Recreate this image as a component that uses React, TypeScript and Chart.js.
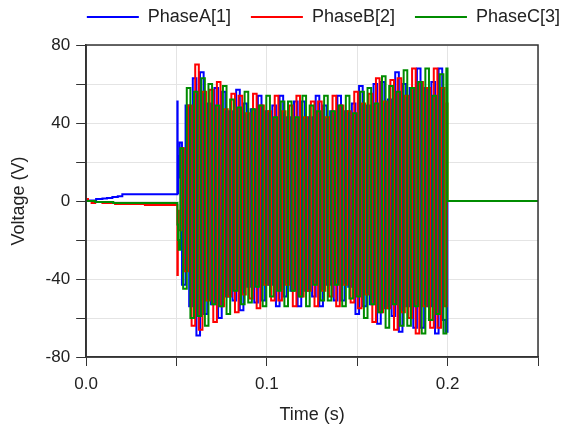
import React, { useEffect, useRef } from 'react';
import { Chart, registerables } from 'chart.js';

Chart.register(...registerables);

const seriesNames = ['PhaseA[1]', 'PhaseB[2]', 'PhaseC[3]'];
const seriesColors = ['rgb(0,0,255)', 'rgb(255,0,0)', 'rgb(0,140,0)'];

// Pre-fault / transient samples (time s, voltage V)
const preTimesA = [0, 0.003, 0.008, 0.01, 0.013, 0.016, 0.019, 0.021, 0.0504, 0.0505, 0.0507, 0.0511, 0.0515];
const preValuesA = [0, 0.3, 1, 1.3, 1.6, 2, 2.5, 3.5, 3.5, 51, 4, 23, 12];
const preTimesB = [0, 0.002, 0.004, 0.006, 0.012, 0.02, 0.045, 0.0504, 0.0505, 0.0509, 0.0515];
const preValuesB = [1, 0, -1, -0.5, -1, -1.5, -2, -2, -38, -5, -15];
const preTimesC = [0, 0.01, 0.02, 0.0504, 0.0506, 0.051, 0.0515];
const preValuesC = [0, -0.5, -1, -1, -12, -20, -25];

// Oscillation peak samples
const peakTimes = [
  0.052, 0.054, 0.056, 0.058, 0.060, 0.062, 0.064, 0.066, 0.068, 0.070,
  0.072, 0.074, 0.076, 0.078, 0.080, 0.082, 0.084, 0.086, 0.088, 0.090,
  0.092, 0.094, 0.096, 0.098, 0.100, 0.102, 0.104, 0.106, 0.108, 0.110,
  0.112, 0.114, 0.116, 0.118, 0.120, 0.122, 0.124, 0.126, 0.128, 0.130,
  0.132, 0.134, 0.136, 0.138, 0.140, 0.142, 0.144, 0.146, 0.148, 0.150,
  0.152, 0.154, 0.156, 0.158, 0.160, 0.162, 0.164, 0.166, 0.168, 0.170,
  0.172, 0.174, 0.176, 0.178, 0.180, 0.182, 0.184, 0.186, 0.188, 0.190,
  0.192, 0.194, 0.196, 0.198,
];
const phaseTimeShift = [0, 0.00133, 0.00067];

const peaksA = [
  30, -43, 49, -54, 63, -69, 66, -58, 50, -53,
  58, -60, 56, -49, 46, -51, 57, -56, 50, -44,
  47, -52, 54, -51, 46, -43, 49, -54, 54, -49,
  43, -46, 51, -54, 51, -46, 43, -49, 54, -54,
  49, -43, 46, -51, 54, -51, 46, -44, 50, -58,
  59, -54, 49, -53, 60, -63, 61, -55, 52, -59,
  66, -67, 60, -54, 58, -65, 68, -65, 58, -54,
  61, -68, 68, -61,
];
const peaksB = [
  27, -36, 49, -64, 70, -66, 56, -51, 57, -62,
  61, -54, 47, -49, 55, -57, 54, -48, 45, -50,
  55, -55, 49, -43, 46, -51, 54, -51, 46, -43,
  49, -54, 54, -49, 43, -46, 51, -54, 51, -46,
  43, -49, 54, -54, 49, -43, 46, -52, 56, -55,
  50, -48, 55, -62, 63, -57, 51, -55, 62, -66,
  63, -57, 54, -60, 68, -68, 61, -54, 58, -65,
  68, -65, 58, -54,
];
const peaksC = [
  27, -45, 58, -60, 56, -59, 63, -64, 60, -53,
  49, -54, 59, -58, 52, -46, 48, -53, 56, -52,
  47, -44, 49, -54, 54, -49, 43, -46, 51, -54,
  51, -46, 43, -49, 54, -54, 49, -43, 46, -51,
  54, -51, 46, -43, 49, -54, 54, -50, 45, -49,
  56, -60, 58, -53, 50, -57, 64, -65, 59, -53,
  56, -64, 67, -64, 58, -54, 61, -68, 68, -61,
  54, -58, 65, -68,
];

// Switch-off tail
const tailTimesA = [0.1996, 0.2002, 0.25];
const tailValuesA = [-67, 0, 0];
const tailTimesB = [0.1997, 0.2001, 0.25];
const tailValuesB = [50, 0, 0];
const tailTimesC = [0.1999, 0.2, 0.25];
const tailValuesC = [68, 0, 0];

const xTickStep = 0.05;
const yTickStep = 20;

function buildSeries(
  preT: number[], preV: number[], peaks: number[], shift: number,
  tailT: number[], tailV: number[]
) {
  const pts: { x: number; y: number }[] = [];
  preT.forEach((t, i) => pts.push({ x: t, y: preV[i] }));
  peakTimes.forEach((t, i) => pts.push({ x: t + shift, y: peaks[i] }));
  tailT.forEach((t, i) => pts.push({ x: t, y: tailV[i] }));
  return pts;
}

const framePlugin = {
  id: 'frame',
  beforeInit(chart: any) {
    const legend = chart.legend;
    if (legend) {
      const origFit = legend.fit;
      legend.fit = function () {
        origFit.call(this);
        this.height += 9;
      };
    }
  },
  afterLayout(chart: any) {
    if (chart.legend) {
      chart.legend.left += 42;
      chart.legend.right += 42;
    }
  },
  afterDatasetsDraw(chart: any) {
    const { ctx, chartArea } = chart;
    const { left, top, right, bottom } = chartArea;
    ctx.save();
    ctx.strokeStyle = '#333';
    ctx.lineWidth = 1.5;
    ctx.strokeRect(left, top, right - left, bottom - top);
    ctx.restore();
  },
};

export default function App() {
  const ref = useRef<HTMLCanvasElement>(null);

  useEffect(() => {
    document.body.style.margin = '0';
    const canvas = ref.current;
    if (!canvas) return;
    const data = [
      buildSeries(preTimesA, preValuesA, peaksA, phaseTimeShift[0], tailTimesA, tailValuesA),
      buildSeries(preTimesB, preValuesB, peaksB, phaseTimeShift[1], tailTimesB, tailValuesB),
      buildSeries(preTimesC, preValuesC, peaksC, phaseTimeShift[2], tailTimesC, tailValuesC),
    ];
    const font = 'Liberation Sans';
    const chart = new Chart(canvas, {
      type: 'line',
      data: {
        datasets: data.map((d, i) => ({
          label: seriesNames[i],
          data: d,
          borderColor: seriesColors[i],
          backgroundColor: seriesColors[i],
          borderWidth: 2,
          pointRadius: 0,
          stepped: 'middle' as const,
          order: 2 - i,
        })),
      },
      options: {
        responsive: false,
        animation: false,
        parsing: false as any,
        layout: { padding: { left: 8, right: 25, top: -12, bottom: 4 } },
        plugins: {
          legend: {
            position: 'top',
            align: 'end',
            labels: {
              boxWidth: 52,
              boxHeight: 2,
              padding: 20,
              color: '#222',
              font: { family: font, size: 18 },
              sort: (a: any, b: any) => a.datasetIndex - b.datasetIndex,
              generateLabels: (ch: any) =>
                Chart.defaults.plugins.legend.labels.generateLabels(ch).map((it: any) => ({
                  ...it,
                  lineWidth: 0,
                })),
            },
          },
          tooltip: { enabled: false },
        },
        scales: {
          x: {
            type: 'linear',
            min: 0,
            max: 0.25,
            ticks: {
              stepSize: xTickStep,
              autoSkip: false,
              maxRotation: 0,
              padding: 8,
              color: '#222',
              font: { family: font, size: 17 },
              callback: (value: any) => {
                const r = Math.round(Number(value) * 100);
                return r % 10 === 0 ? (r / 100).toFixed(1) : '';
              },
            },
            grid: { color: '#e4e4e4', tickColor: '#333', tickLength: 9, drawTicks: true },
            border: { color: '#333', width: 1.5 },
            title: { display: true, text: 'Time (s)', color: '#222', font: { family: font, size: 18 }, padding: { top: 2, bottom: 0 } },
          },
          y: {
            type: 'linear',
            min: -80,
            max: 80,
            ticks: {
              stepSize: yTickStep,
              autoSkip: false,
              padding: 6,
              color: '#222',
              font: { family: font, size: 17 },
              callback: (value: any) => (Number(value) % 40 === 0 ? String(value) : ''),
            },
            grid: { color: '#e4e4e4', tickColor: '#333', tickLength: 10, drawTicks: true },
            border: { color: '#333', width: 1.5 },
            title: { display: true, text: 'Voltage (V)', color: '#222', font: { family: font, size: 18 }, padding: { top: 0, bottom: 10 } },
          },
        },
      },
      plugins: [framePlugin],
    });
    return () => chart.destroy();
  }, []);

  return (
    <div style={{ position: 'fixed', left: 0, top: 0, width: 563, height: 430 }}>
      <canvas ref={ref} width={563} height={430} />
    </div>
  );
}
